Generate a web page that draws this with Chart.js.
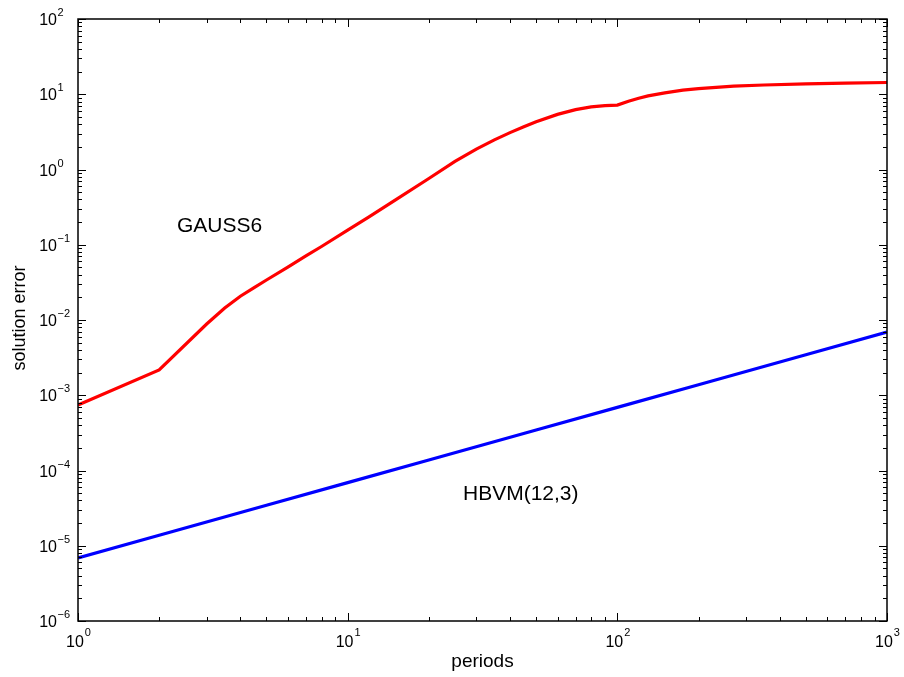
<!DOCTYPE html>
<html>
<head>
<meta charset="utf-8">
<script src="https://cdn.jsdelivr.net/npm/chart.js@4/dist/chart.umd.min.js"></script>
<style>
html,body{margin:0;padding:0;background:#fff;}
canvas{display:block;}
</style>
</head>
<body>
<canvas id="c" width="904" height="677"></canvas>
<script>
// ---- data ----
const gaussPeriods = [1,2,3,3.5,4,4.5,5,6,7,8,10,12,15,20,25,30,35,40,45,50,60,70,80,90,100,110,120,130,150,175,200,270,350,500,700,1000];
const gaussError   = [7.42e-4,2.17e-3,8.85e-3,0.0144,0.0207,0.0270,0.0340,0.0506,0.0709,0.0948,0.156,0.2345,0.391,0.759,1.28,1.87,2.48,3.09,3.69,4.30,5.40,6.25,6.79,7.07,7.17,8.06,8.84,9.51,10.45,11.32,11.89,12.79,13.27,13.72,14.07,14.33];
const hbvmPeriods  = [1,2,5,10,20,50,100,200,500,1000];
const hbvmError    = [6.9e-6,1.38e-5,3.45e-5,6.9e-5,1.38e-4,3.45e-4,6.9e-4,1.38e-3,3.45e-3,6.9e-3];
const xTickExps = [0,1,2,3];
const yTickExps = [-6,-5,-4,-3,-2,-1,0,1,2];
const seriesLabels = ['GAUSS6','HBVM(12,3)'];
const xTitle = 'periods';
const yTitle = 'solution error';

const toPts = (xs, ys) => xs.map((x, i) => ({x: x, y: ys[i]}));
const FONT = '"Liberation Sans", Arial, sans-serif';

const supLabel = (exp) => (exp < 0 ? '\u2212' + (-exp) : String(exp));

const decorPlugin = {
  id: 'decor',
  afterDraw(chart) {
    const ctx = chart.ctx;
    const a = chart.chartArea;
    const xs = chart.scales.x, ys = chart.scales.y;
    ctx.save();
    // frame
    ctx.strokeStyle = '#000';
    ctx.lineWidth = 1.5;
    ctx.strokeRect(a.left, a.top, a.right - a.left, a.bottom - a.top);
    // ticks
    ctx.lineWidth = 1;
    ctx.beginPath();
    const xmin = Math.log10(xs.min), xmax = Math.log10(xs.max);
    for (let e = Math.round(xmin); e <= Math.round(xmax); e++) {
      for (let m = 1; m <= 9; m++) {
        const v = m * Math.pow(10, e);
        if (v < xs.min * 0.999 || v > xs.max * 1.001) continue;
        const px = Math.round(xs.getPixelForValue(v)) + 0.5;
        const len = m === 1 ? 8 : 4;
        ctx.moveTo(px, a.bottom); ctx.lineTo(px, a.bottom - len);
        ctx.moveTo(px, a.top); ctx.lineTo(px, a.top + len);
      }
    }
    const ymin = Math.log10(ys.min), ymax = Math.log10(ys.max);
    for (let e = Math.round(ymin); e <= Math.round(ymax); e++) {
      for (let m = 1; m <= 9; m++) {
        const v = m * Math.pow(10, e);
        if (v < ys.min * 0.999 || v > ys.max * 1.001) continue;
        const py = Math.round(ys.getPixelForValue(v)) + 0.5;
        const len = m === 1 ? 8 : 4;
        ctx.moveTo(a.left, py); ctx.lineTo(a.left + len, py);
        ctx.moveTo(a.right, py); ctx.lineTo(a.right - len, py);
      }
    }
    ctx.stroke();

    // tick labels
    ctx.fillStyle = '#000';
    ctx.textBaseline = 'alphabetic';
    const baseF = '16px ' + FONT, supF = '11px ' + FONT;
    yTickExps.forEach(e => {
      const py = ys.getPixelForValue(Math.pow(10, e));
      ctx.font = baseF; ctx.textAlign = 'right';
      ctx.fillText('10', 57, py + 6);
      ctx.font = supF; ctx.textAlign = 'left';
      ctx.fillText(supLabel(e), 57.5, py - 3);
    });
    xTickExps.forEach(e => {
      const px = xs.getPixelForValue(Math.pow(10, e));
      ctx.font = baseF;
      const w10 = ctx.measureText('10').width;
      ctx.font = supF;
      const we = ctx.measureText(supLabel(e)).width;
      const start = px - (w10 + we) / 2;
      ctx.font = baseF; ctx.textAlign = 'left';
      ctx.fillText('10', start, a.bottom + 26);
      ctx.font = supF;
      ctx.fillText(supLabel(e), start + w10 + 1, a.bottom + 15);
    });

    // axis titles
    ctx.font = '19px ' + FONT;
    ctx.textAlign = 'center';
    ctx.textBaseline = 'middle';
    ctx.fillText(xTitle, (a.left + a.right) / 2, 662);
    ctx.font = '18px ' + FONT;
    ctx.save();
    ctx.translate(20, 318);
    ctx.rotate(-Math.PI / 2);
    ctx.fillText(yTitle, 0, 0);
    ctx.restore();

    // series annotations
    ctx.font = '21px ' + FONT;
    ctx.textAlign = 'left';
    ctx.fillText(seriesLabels[0], 177, 226);
    ctx.fillText(seriesLabels[1], 463, 494);
    ctx.restore();
  }
};

new Chart(document.getElementById('c'), {
  type: 'line',
  data: {
    datasets: [
      {label: seriesLabels[0], data: toPts(gaussPeriods, gaussError), borderColor: '#ff0000', borderWidth: 3.2, pointRadius: 0, tension: 0, fill: false},
      {label: seriesLabels[1], data: toPts(hbvmPeriods, hbvmError), borderColor: '#0000ff', borderWidth: 3.2, pointRadius: 0, tension: 0, fill: false}
    ]
  },
  options: {
    responsive: false,
    animation: false,
    devicePixelRatio: 1,
    layout: {padding: {top: 19, right: 17, left: 0, bottom: 0}},
    plugins: {legend: {display: false}, tooltip: {enabled: false}},
    scales: {
      x: {
        type: 'logarithmic', min: 1, max: 1000, position: 'bottom',
        grid: {display: false}, border: {display: false},
        ticks: {display: false},
        afterFit(s) { s.height = 56; }
      },
      y: {
        type: 'logarithmic', min: 1e-6, max: 100, position: 'left',
        grid: {display: false}, border: {display: false},
        ticks: {display: false},
        afterFit(s) { s.width = 78; }
      }
    }
  },
  plugins: [decorPlugin]
});
</script>
</body>
</html>
